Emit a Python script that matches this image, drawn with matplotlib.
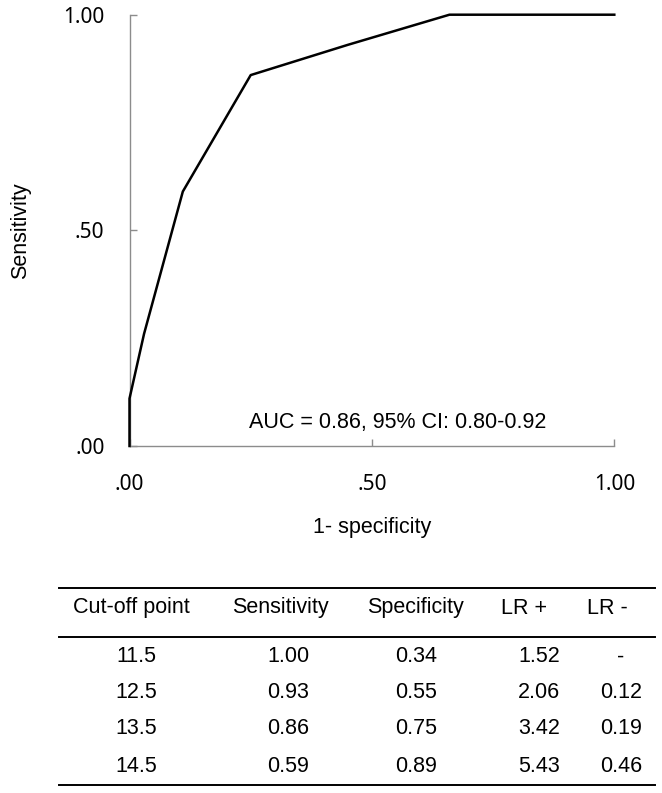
import matplotlib
matplotlib.use("Agg")
import matplotlib.pyplot as plt
from matplotlib.lines import Line2D

# ROC curve points (1 - specificity, sensitivity)
fpr = [0.0, 0.0, 0.03, 0.11, 0.25, 0.45, 0.66, 1.0]
tpr = [0.0, 0.11, 0.26, 0.59, 0.86, 0.93, 1.0, 1.0]

tick_vals = [0.0, 0.5, 1.0]
tick_labels = [".00", ".50", "1.00"]
auc_text = "AUC = 0.86, 95% CI: 0.80-0.92"

# table below the chart
headers = ["Cut-off point", "Sensitivity", "Specificity", "LR +", "LR -"]
cutoffs = ["11.5", "12.5", "13.5", "14.5"]
sens = ["1.00", "0.93", "0.86", "0.59"]
spec = ["0.34", "0.55", "0.75", "0.89"]
lr_pos = ["1.52", "2.06", "3.42", "5.43"]
lr_neg = ["-", "0.12", "0.19", "0.46"]

W, H = 662, 793
FONT = "Liberation Sans"
FS = 15.5
AXIS_GREY = "#8c8c8c"

fig = plt.figure(figsize=(W / 100, H / 100), dpi=100)

# plot area in pixels: left 129.5, right 614.3, top 14.7, bottom 446
ax = fig.add_axes([129.5 / W, (H - 446) / H, (614.3 - 129.5) / W, (446 - 14.7) / H])
ax.plot(fpr, tpr, color="black", linewidth=1.8, clip_on=False, zorder=3)
ax.set_xlim(0, 1)
ax.set_ylim(0, 1)

for side in ["top", "right"]:
    ax.spines[side].set_visible(False)
for side in ["left", "bottom"]:
    ax.spines[side].set_color(AXIS_GREY)
    ax.spines[side].set_linewidth(1.0)

ax.set_xticks(tick_vals)
ax.set_yticks(tick_vals)
ax.set_xticklabels(tick_labels, fontfamily="Noto Sans", fontsize=15)
ax.set_yticklabels(tick_labels, fontfamily="Noto Sans", fontsize=15)
ax.tick_params(axis="both", direction="in", length=5, width=1.0, color=AXIS_GREY)
ax.tick_params(axis="x", pad=20)
ax.tick_params(axis="y", pad=18)

ax.set_xlabel("1- specificity", fontfamily=FONT, fontsize=FS, labelpad=16)
ax.set_ylabel("Sensitivity", fontfamily=FONT, fontsize=FS, labelpad=23)

ax.text(0.247, 0.055, auc_text, transform=ax.transAxes, ha="left", va="center",
        fontfamily=FONT, fontsize=FS)

# table drawn in pixel coordinates on an overlay axes
tab = fig.add_axes([0, 0, 1, 1])
tab.set_xlim(0, W)
tab.set_ylim(H, 0)
tab.axis("off")

for yy in [587.7, 636.7, 785]:
    tab.add_line(Line2D([59, 655], [yy, yy], color="black", linewidth=1.4))

header_x = [131, 280, 415, 524, 607]
value_x = [136, 288, 416, 539, 621]
header_y = 608
row_y = [657, 692, 729, 766]

for hx, h in zip(header_x, headers):
    tab.text(hx, header_y, h, ha="center", va="center", fontfamily=FONT, fontsize=FS)

columns = [cutoffs, sens, spec, lr_pos, lr_neg]
for cx, col in zip(value_x, columns):
    for ry, val in zip(row_y, col):
        tab.text(cx, ry, val, ha="center", va="center", fontfamily=FONT, fontsize=FS)

fig.savefig("out.png", dpi=100)
